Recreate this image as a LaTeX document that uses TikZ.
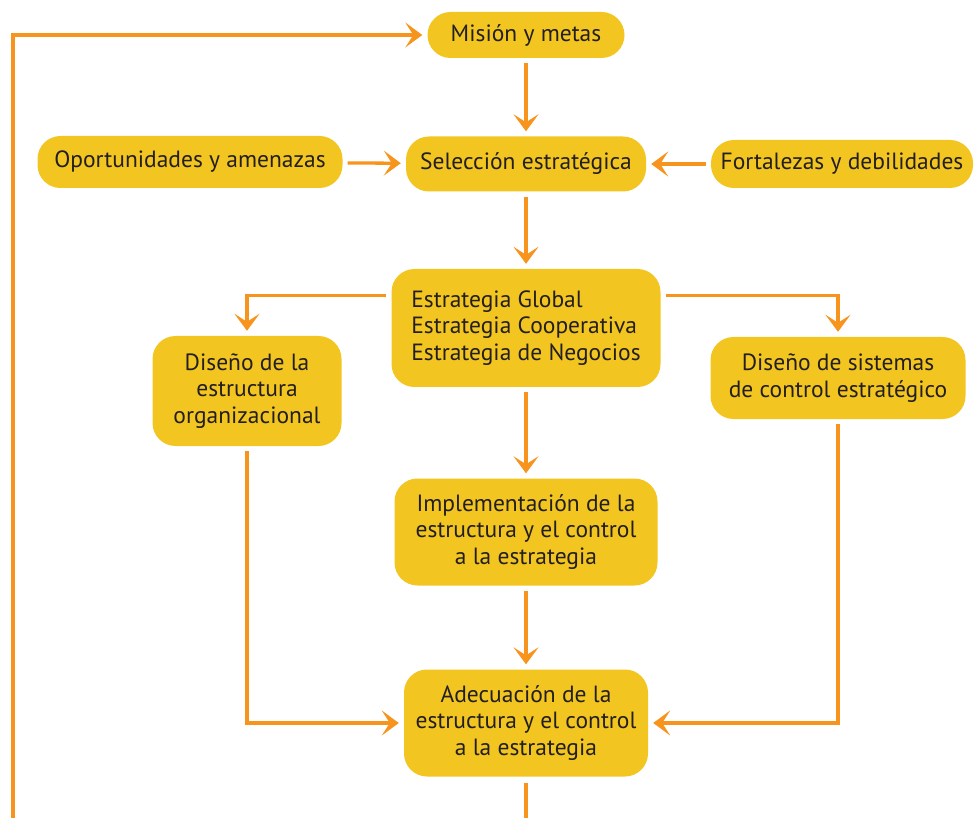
\documentclass[tikz,border=0pt]{standalone}
\usepackage{fontspec}
\setmainfont{PT Sans}
\usetikzlibrary{arrows.meta}
\usetikzlibrary{positioning}
\definecolor{amarillo}{HTML}{F2C521}
\definecolor{naranja}{HTML}{F7941D}
\definecolor{texto}{HTML}{231F20}

\begin{document}
\begin{tikzpicture}[x=1pt,y=-1pt,
  caja/.style={fill=amarillo,rounded corners=23pt,inner sep=0pt,align=center,text=texto,font=\fontsize{23.5}{26.5}\selectfont},
  flecha/.style={draw=naranja,line width=3.3pt,-{Stealth[length=17pt,width=25pt,inset=8pt]},shorten >=5pt,shorten <=5pt},
  linea/.style={draw=naranja,line width=3.3pt,shorten <=6pt}]
  \useasboundingbox (0,0) rectangle (975,818);
  \node (mision) at (526,35)[caja,minimum width=197pt,minimum height=46pt]{Misión y metas};
  \node (seleccion) at (526,164)[caja,minimum width=240pt,minimum height=55pt]{Selección estratégica};
  \node (oportunidades) at (190,162)[caja,minimum width=305pt,minimum height=52pt]{Oportunidades y amenazas};
  \node (fortalezas) at (842,164)[caja,minimum width=262pt,minimum height=48pt]{Fortalezas y debilidades};
  \node (estrategia) at (526,328)[caja,align=left,minimum width=269pt,minimum height=118pt]{Estrategia Global\\Estrategia Cooperativa\\Estrategia de Negocios};
  \node (organizacion) at (247,391)[caja,minimum width=189pt,minimum height=110pt]{Diseño de la\\estructura\\organizacional};
  \node (control) at (838,378)[caja,minimum width=255pt,minimum height=82pt]{Diseño de sistemas\\de control estratégico};
  \node (implementacion) at (526,532)[caja,minimum width=263pt,minimum height=107pt]{Implementación de la\\estructura y el control\\a la estrategia};
  \node (adecuacion) at (526,723)[caja,minimum width=244pt,minimum height=107pt]{Adecuación de la\\estructura y el control\\a la estrategia};
  \coordinate (abajo) at (526,824);
  \coordinate (esquina) at (13,824);
  \draw[flecha](mision)--(seleccion);
  \draw[flecha](oportunidades)--(seleccion);
  \draw[flecha](fortalezas)--(seleccion);
  \draw[flecha](seleccion)--(estrategia);
  \draw[flecha]([yshift=-27pt]estrategia.north west)-|(organizacion);
  \draw[flecha]([yshift=-27pt]estrategia.north east)-|(control);
  \draw[flecha](estrategia)--(implementacion);
  \draw[flecha](implementacion)--(adecuacion);
  \draw[flecha](organizacion)|-(adecuacion);
  \draw[flecha](control)|-(adecuacion);
  \draw[linea](adecuacion)--(abajo);
  \draw[flecha,shorten <=0pt](esquina)|-(mision);
\end{tikzpicture}
\end{document}
